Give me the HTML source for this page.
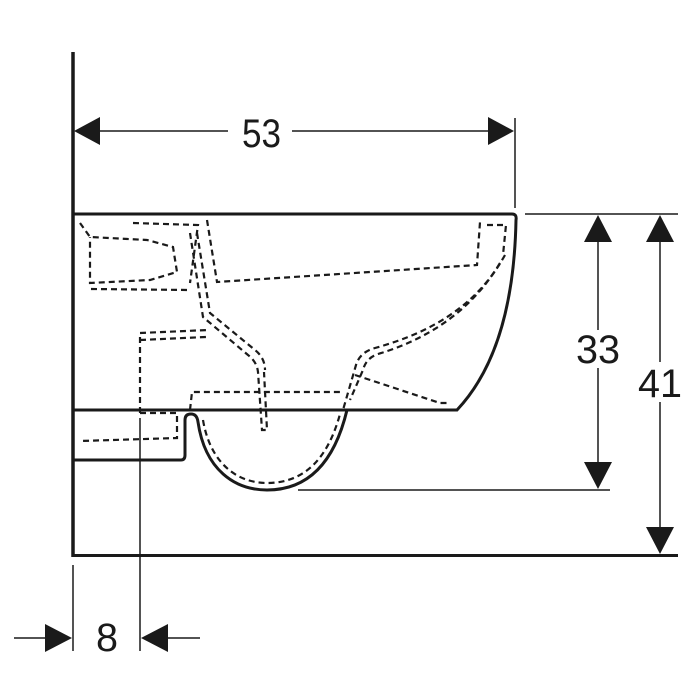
<!DOCTYPE html>
<html><head><style>html,body{margin:0;padding:0;background:#fff}svg{display:block}</style></head>
<body>
<svg width="700" height="700" viewBox="0 0 700 700" xmlns="http://www.w3.org/2000/svg" font-family="Liberation Sans, sans-serif">
<g stroke="#1a1a1a" fill="none">
<line x1="73" y1="52" x2="73" y2="557" stroke-width="3.5"/>
<line x1="72" y1="555.5" x2="678" y2="555.5" stroke-width="3"/>
<path d="M73,214 L512,214 Q517,214 516,220 Q513.5,350 457,410 L73,410" stroke-width="3"/>
<path d="M73,460 L181,460 Q185,460 185,455 L185,420 Q185,414 191,414 Q197,414 198,422 C205,470 235,490 267,490 C310,490 335,460 347,410" stroke-width="3"/>
<g stroke-width="1.5">
<line x1="100" y1="131" x2="228" y2="131"/>
<line x1="292" y1="131" x2="488" y2="131"/>
<line x1="515" y1="118" x2="515" y2="208"/>
<line x1="525" y1="214" x2="678" y2="214"/>
<line x1="298" y1="490" x2="610" y2="490"/>
<line x1="598" y1="240" x2="598" y2="330"/>
<line x1="598" y1="368" x2="598" y2="464"/>
<line x1="660" y1="240" x2="660" y2="362"/>
<line x1="660" y1="402" x2="660" y2="530"/>
<line x1="73" y1="565" x2="73" y2="651"/>
<line x1="140" y1="418" x2="140" y2="651"/>
<line x1="14" y1="638" x2="46" y2="638"/>
<line x1="168" y1="638" x2="200" y2="638"/>
</g>
</g>
<g fill="#1a1a1a">
<polygon points="74,131 100,117 100,145"/>
<polygon points="514,131 488,117 488,145"/>
<polygon points="598,215 584,242 612,242"/>
<polygon points="598,489 584,462 612,462"/>
<polygon points="660,215 646,242 674,242"/>
<polygon points="660,554 646,527 674,527"/>
<polygon points="72,638 45,624 45,652"/>
<polygon points="141,638 168,624 168,652"/>
</g>
<g fill="#1a1a1a" font-size="40">
<text x="242" y="147" textLength="39" lengthAdjust="spacingAndGlyphs">53</text>
<text x="576" y="363" textLength="44" lengthAdjust="spacingAndGlyphs">33</text>
<text x="638" y="397" textLength="44" lengthAdjust="spacingAndGlyphs">41</text>
<text x="96" y="651" textLength="22" lengthAdjust="spacingAndGlyphs">8</text>
</g>
<g stroke="#1a1a1a" fill="none" stroke-width="2.2" stroke-dasharray="6,4">
<path d="M80,223 L90,237 L147,240 L173,247 L177,272 L150,280 L90,283 L90,237"/>
<path d="M91,289 L190,290"/>
<path d="M133,223 L198,225 L190,283"/>
<path d="M207,220 L217,282 L477,265 L480,222"/>
<path d="M487,225 L506,225 L503,255"/>
<path d="M190,233 L203,317 L248,355 Q257,362 258,372 L262,430 L267,430 L264,372"/>
<path d="M197,233 L210,313 L255,350 Q265,358 265,370"/>
<path d="M505,255 C480,300 440,330 375,348 Q360,352 356,365 L343,410"/>
<path d="M500,263 C475,305 435,337 378,354 Q366,358 363,370 L350,400"/>
<path d="M355,375 L440,403 L450,403"/>
<path d="M190,410 L192,392 L343,392"/>
<path d="M140,413 L140,333 L208,330"/>
<path d="M140,340 L206,337"/>
<path d="M140,413 L177,413 L177,438 L80,441"/>
<path d="M203,420 C210,462 236,483 267,483 C305,483 328,458 340,414"/>
</g>
</svg>
</body></html>
